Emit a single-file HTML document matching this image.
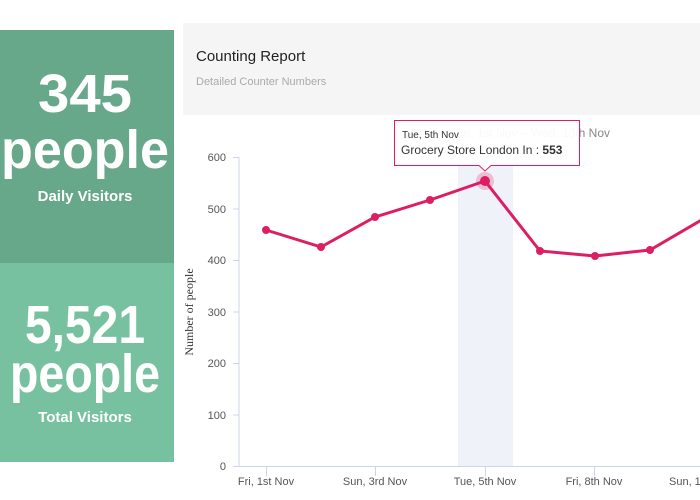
<!DOCTYPE html>
<html><head><meta charset="utf-8"><style>
html,body{margin:0;padding:0;background:#fff;width:700px;height:500px;overflow:hidden}
svg{display:block;font-family:"Liberation Sans",sans-serif}
</style></head><body>
<svg width="700" height="500" viewBox="0 0 700 500">
<rect x="0" y="30" width="174" height="233" fill="#67a78a"/>
<rect x="0" y="263" width="174" height="199" fill="#78c1a0"/>
<g fill="#fff" text-anchor="middle" font-weight="bold">
<text x="85" y="112" font-size="54" textLength="94" lengthAdjust="spacingAndGlyphs">345</text>
<text x="85" y="168" font-size="54" textLength="168" lengthAdjust="spacingAndGlyphs">people</text>
<text x="85" y="201" font-size="15">Daily Visitors</text>
<text x="85" y="343" font-size="54" textLength="120" lengthAdjust="spacingAndGlyphs">5,521</text>
<text x="85" y="392" font-size="54" textLength="150" lengthAdjust="spacingAndGlyphs">people</text>
<text x="85" y="422" font-size="15">Total Visitors</text>
</g>
<rect x="183" y="23" width="517" height="92" fill="#f5f5f5"/>
<text x="196" y="61" font-size="15" fill="#222">Counting Report</text>
<text x="196" y="85" font-size="11" fill="#aaa">Detailed Counter Numbers</text>
<rect x="458" y="157" width="55" height="309" fill="#eff3f9"/>
<g stroke="#ccd6eb" stroke-width="1">
<line x1="239" y1="157" x2="239" y2="466"/>
<line x1="239" y1="466.5" x2="700" y2="466.5"/>
<line x1="233" y1="157.5" x2="239" y2="157.5"/><line x1="233" y1="209" x2="239" y2="209"/>
<line x1="233" y1="260.5" x2="239" y2="260.5"/><line x1="233" y1="312" x2="239" y2="312"/>
<line x1="233" y1="363.5" x2="239" y2="363.5"/><line x1="233" y1="415" x2="239" y2="415"/>
<line x1="233" y1="466.5" x2="239" y2="466.5"/>
<line x1="266.5" y1="466" x2="266.5" y2="476"/><line x1="375.5" y1="466" x2="375.5" y2="476"/>
<line x1="485.5" y1="466" x2="485.5" y2="476"/><line x1="594.5" y1="466" x2="594.5" y2="476"/>
</g>
<g font-size="11" fill="#555" text-anchor="end">
<text x="226" y="161">600</text><text x="226" y="213">500</text><text x="226" y="264">400</text>
<text x="226" y="316">300</text><text x="226" y="367">200</text><text x="226" y="419">100</text>
<text x="226" y="470">0</text>
</g>
<g font-size="11" fill="#555" text-anchor="middle">
<text x="266" y="485">Fri, 1st Nov</text><text x="375" y="485">Sun, 3rd Nov</text>
<text x="485" y="485">Tue, 5th Nov</text><text x="594" y="485">Fri, 8th Nov</text>
<text x="669" y="485" text-anchor="start">Sun, 10th Nov</text>
</g>
<text transform="translate(193,312) rotate(-90)" font-size="12" fill="#333" text-anchor="middle" font-family="Liberation Serif,serif">Number of people</text>
<polyline fill="none" stroke="#dd1e63" stroke-width="3" points="266,230 321,247 375,217 430,200 485,181 540,251 595,256 650,250 705,218"/>
<g fill="#dd1e63">
<circle cx="266" cy="230" r="4"/><circle cx="321" cy="247" r="4"/><circle cx="375" cy="217" r="4"/>
<circle cx="430" cy="200" r="4"/><circle cx="540" cy="251" r="4"/><circle cx="595" cy="256" r="4"/>
<circle cx="650" cy="250" r="4"/>
<circle cx="485" cy="181" r="9" opacity="0.25"/><circle cx="485" cy="181" r="5"/>
</g>
<text x="610" y="137" font-size="12" fill="#888" text-anchor="end">Fri, 1st Nov – Wed, 13th Nov</text>
<path d="M394.5,120.5 H579.5 V165.5 H491 L485,171 L479,165.5 H394.5 Z" fill="#fff" fill-opacity="0.95" stroke="#dd1e63" stroke-width="1"/>
<text x="402" y="138" font-size="10" fill="#333">Tue, 5th Nov</text>
<text x="401" y="154" font-size="12" fill="#333">Grocery Store London In : <tspan font-weight="bold">553</tspan></text>
</svg>
</body></html>
